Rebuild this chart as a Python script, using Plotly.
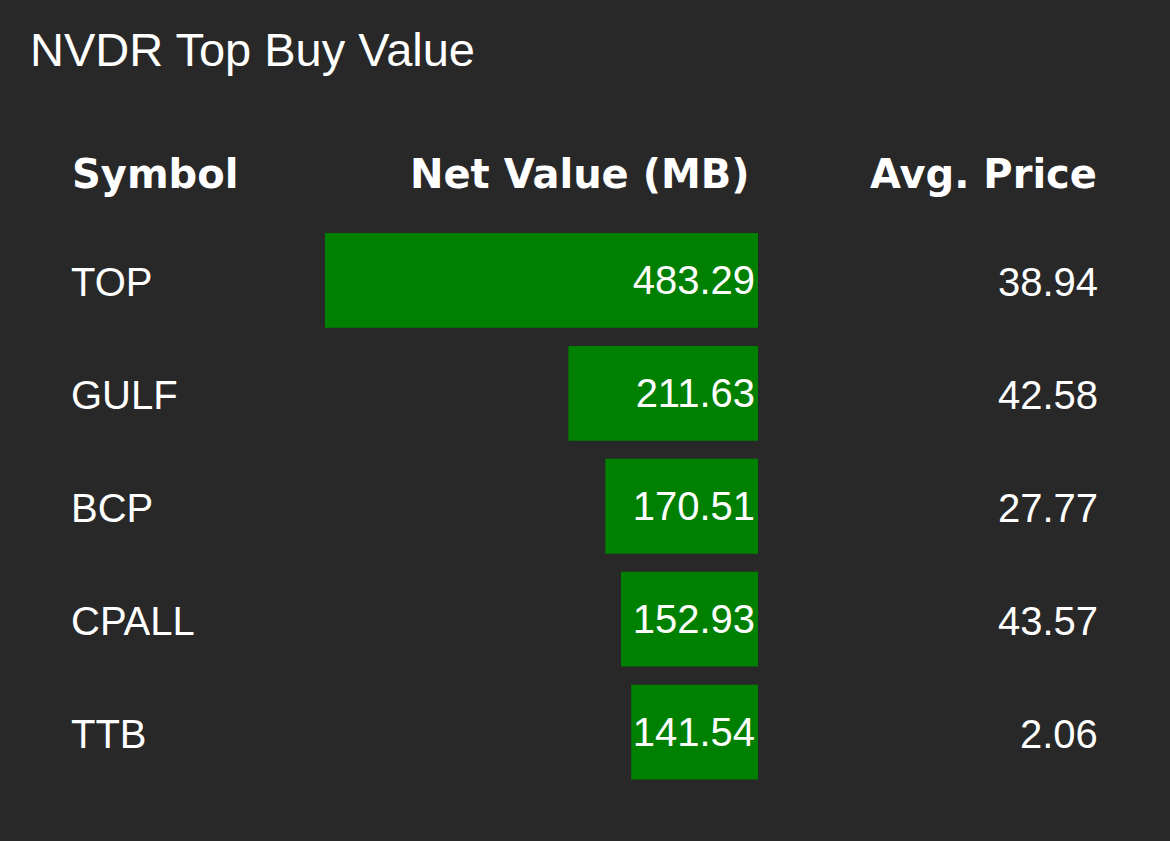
import plotly.graph_objects as go

# Data
symbols = ["TOP", "GULF", "BCP", "CPALL", "TTB"]
net_values = [483.29, 211.63, 170.51, 152.93, 141.54]
avg_prices = [38.94, 42.58, 27.77, 43.57, 2.06]
headers = ["Symbol", "Net Value (MB)", "Avg. Price"]
title_text = "NVDR Top Buy Value"

W, H = 1170, 841
BG = "#282828"
GREEN = "#008000"
BODY_FONT = "Arial"
HEAD_FONT = "DejaVu Sans"

fig = go.Figure()
fig.add_trace(go.Bar(
    x=net_values,
    y=symbols,
    orientation="h",
    marker=dict(color=GREEN, line=dict(width=0)),
    text=[f"{v:.2f}" for v in net_values],
    textposition="inside",
    insidetextanchor="start",
    constraintext="none",
    textfont=dict(family=BODY_FONT, size=40, color="white"),
    hoverinfo="skip",
))

annotations = []
for s, p in zip(symbols, avg_prices):
    annotations.append(dict(x=69 / W, xref="paper", y=s, yref="y", text=s,
                            xanchor="left", yanchor="middle", showarrow=False, yshift=-2,
                            font=dict(family=BODY_FONT, size=40, color="white")))
    annotations.append(dict(x=1100 / W, xref="paper", y=s, yref="y", text=f"{p:.2f}",
                            xanchor="right", yanchor="middle", showarrow=False, yshift=-2,
                            font=dict(family=BODY_FONT, size=40, color="white")))

head_y = 1 - 174 / H
head_pos = [(70 / W, "left"), (752 / W, "right"), (1099 / W, "right")]
for h, (hx, anc) in zip(headers, head_pos):
    annotations.append(dict(x=hx, xref="paper", y=head_y, yref="paper", text=h,
                            xanchor=anc, yanchor="middle", showarrow=False,
                            font=dict(family=HEAD_FONT, size=40, color="white", weight="bold")))

fig.update_layout(
    width=W, height=H,
    margin=dict(l=0, r=0, t=0, b=0),
    paper_bgcolor=BG, plot_bgcolor=BG,
    showlegend=False,
    bargap=0.16,
    title=dict(text=title_text, x=30 / W, xanchor="left", xref="paper",
               y=1 - 50 / H, yanchor="middle", yref="paper",
               font=dict(family=BODY_FONT, size=47, color="white")),
    xaxis=dict(domain=[310 / W, 758 / W], range=[500, 0], visible=False, fixedrange=True),
    yaxis=dict(domain=[1 - 788.5 / H, 1 - 224 / H], categoryorder="array",
               categoryarray=symbols, autorange="reversed", visible=False, fixedrange=True),
    annotations=annotations,
)

fig.write_html(
    "out.html",
    config={"displayModeBar": False},
    post_script="document.body.style.margin='0';document.body.style.background='#282828';",
)
